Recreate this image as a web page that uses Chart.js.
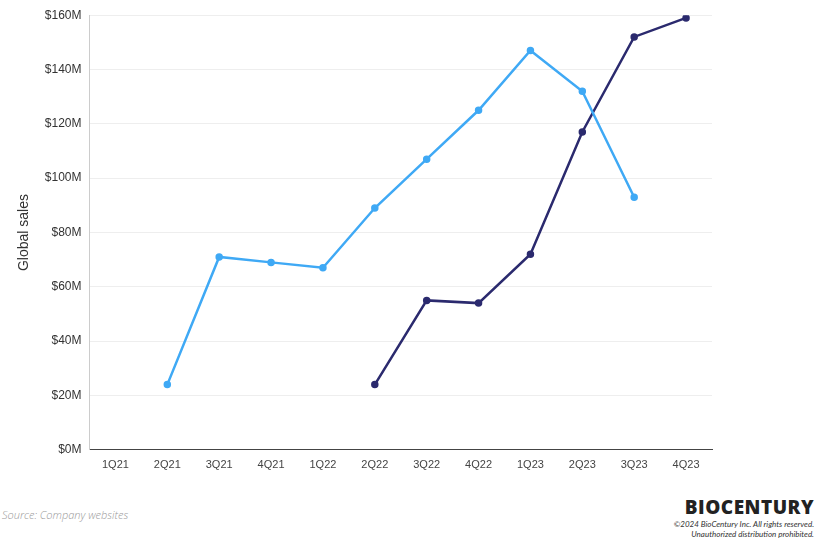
<!DOCTYPE html>
<html><head><meta charset="utf-8">
<script src="https://cdn.jsdelivr.net/npm/chart.js@4"></script>
<style>
body{margin:0;background:#fff;font-family:Lato,"Open Sans",sans-serif;}
#wrap{position:absolute;left:0;top:0;width:831px;height:475px;}
#src{position:absolute;left:2px;top:507px;font-size:11px;font-style:italic;color:#999;font-family:"Open Sans",sans-serif;font-weight:300;}
#logo{position:absolute;right:17px;top:494px;font-size:19px;font-weight:900;letter-spacing:0.5px;color:#222;font-family:"Open Sans",sans-serif;}
#copy{position:absolute;right:17px;top:519px;font-size:8px;font-style:italic;color:#333;text-align:right;line-height:10px;}
</style></head><body>
<div id="wrap"><canvas id="c"></canvas></div>
<div id="src">Source: Company websites</div>
<div id="logo">BIOCENTURY</div>
<div id="copy">©2024 BioCentury Inc. All rights reserved.<br>Unauthorized distribution prohibited.</div>
<script>
const categories=["1Q21","2Q21","3Q21","4Q21","1Q22","2Q22","3Q22","4Q22","1Q23","2Q23","3Q23","4Q23"];
const seriesA=[null,24,71,69,67,89,107,125,147,132,93,null];
const seriesB=[null,null,null,null,null,24,55,54,72,117,152,159];
const yTicks=[0,20,40,60,80,100,120,140,160];
new Chart(document.getElementById('c'),{type:'line',
data:{labels:categories,datasets:[
{data:seriesA,borderColor:'#3fa9f5',backgroundColor:'#3fa9f5',borderWidth:2.5,pointRadius:2.5,tension:0},
{data:seriesB,borderColor:'#2b2a6e',backgroundColor:'#2b2a6e',borderWidth:2.5,pointRadius:2.5,tension:0}]},
options:{responsive:true,maintainAspectRatio:false,animation:false,
layout:{padding:{left:12,right:119,top:10,bottom:0}},
plugins:{legend:{display:false},tooltip:{enabled:false}},
scales:{
x:{offset:true,grid:{display:false,drawTicks:true,tickLength:6},border:{color:'#444'},ticks:{color:'#444',font:{size:11}}},
y:{min:0,max:160,afterBuildTicks:a=>{a.ticks=yTicks.map(v=>({value:v}));},
grid:{color:'#eee',drawTicks:false},border:{display:true,color:'#ccc'},
ticks:{color:'#333',font:{size:12},padding:8,callback:v=>'$'+v+'M'},
title:{display:true,text:'Global sales',color:'#333',font:{size:14}}}}}});
</script></body></html>
